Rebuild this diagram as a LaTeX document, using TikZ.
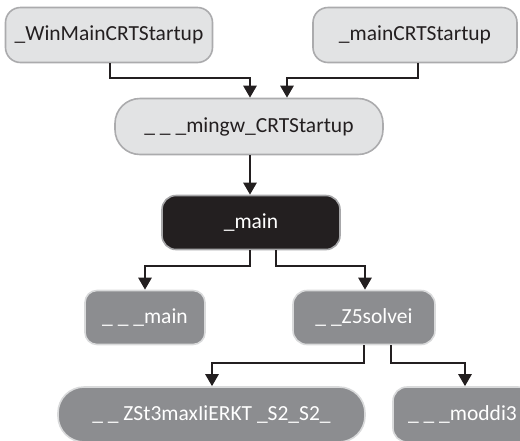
\documentclass[tikz,border=0pt]{standalone}
\usepackage{fontspec}
\setmainfont{Carlito}
\usetikzlibrary{arrows.meta}
\definecolor{lightfill}{HTML}{E2E3E4}
\definecolor{lightborder}{HTML}{ABABAD}
\definecolor{darkfill}{HTML}{231F20}
\definecolor{darkborder}{HTML}{A7A7A9}
\definecolor{midfill}{HTML}{8C8D90}
\definecolor{midborder}{HTML}{D9DADB}
\tikzset{
  box/.style={rectangle, inner sep=0pt, font=\fontsize{21.5}{24}\selectfont, line width=1.6pt},
  lightbox/.style={box, fill=lightfill, draw=lightborder, text=darkfill},
  darkbox/.style={box, fill=darkfill, draw=darkborder, text=white},
  midbox/.style={box, fill=midfill, draw=midborder, text=white},
  conn/.style={line width=2.6pt, draw=darkfill, -{Triangle[width=13pt,length=12pt]}},
}
\begin{document}
\begin{tikzpicture}[x=1pt,y=-1pt]
\useasboundingbox (0,0) rectangle (520,440);
\node[lightbox, rounded corners=15pt, minimum width=207pt, minimum height=55pt] (win) at (109,35) {\_WinMainCRTStartup};
\node[lightbox, rounded corners=15pt, minimum width=204pt, minimum height=55pt] (crt) at (415,35) {\_mainCRTStartup};
\node[lightbox, rounded corners=25pt, minimum width=268pt, minimum height=56pt] (mingw) at (249,126.5) {\_ \_ \_mingw\_CRTStartup};
\node[darkbox, rounded corners=14pt, minimum width=178pt, minimum height=54pt] (main) at (251,222.5) {\_main};
\node[midbox, rounded corners=12pt, minimum width=120pt, minimum height=54pt] (tmain) at (145,317.5) {\_ \_ \_main};
\node[midbox, rounded corners=14pt, minimum width=142pt, minimum height=54pt] (solve) at (364,317.5) {\_ \_Z5solvei};
\node[midbox, rounded corners=26pt, minimum width=307pt, minimum height=55pt] (max) at (211.5,414.5) {\_ \_ ZSt3maxIiERKT \_S2\_S2\_};
\node[midbox, rounded corners=14pt, minimum width=139pt, minimum height=55pt] (mod) at (462.5,414.5) {\_ \_ \_moddi3};

\draw[conn] (win.south -| 110,0) |- (250,78) -- (mingw.north -| 250,0);
\draw[conn] (crt.south -| 418,0) |- (287,78) -- (mingw.north -| 287,0);
\draw[conn] (mingw.south -| 250,0) -- (main.north -| 250,0);
\draw[conn] (main.south -| 250,0) |- (145,266) -- (tmain.north);
\draw[conn] (main.south -| 276,0) |- (365,266) -- (solve.north -| 365,0);
\draw[conn] (solve.south -| 364,0) |- (212,363) -- (max.north -| 212,0);
\draw[conn] (solve.south -| 391,0) |- (465,363) -- (mod.north -| 465,0);
\end{tikzpicture}
\end{document}
